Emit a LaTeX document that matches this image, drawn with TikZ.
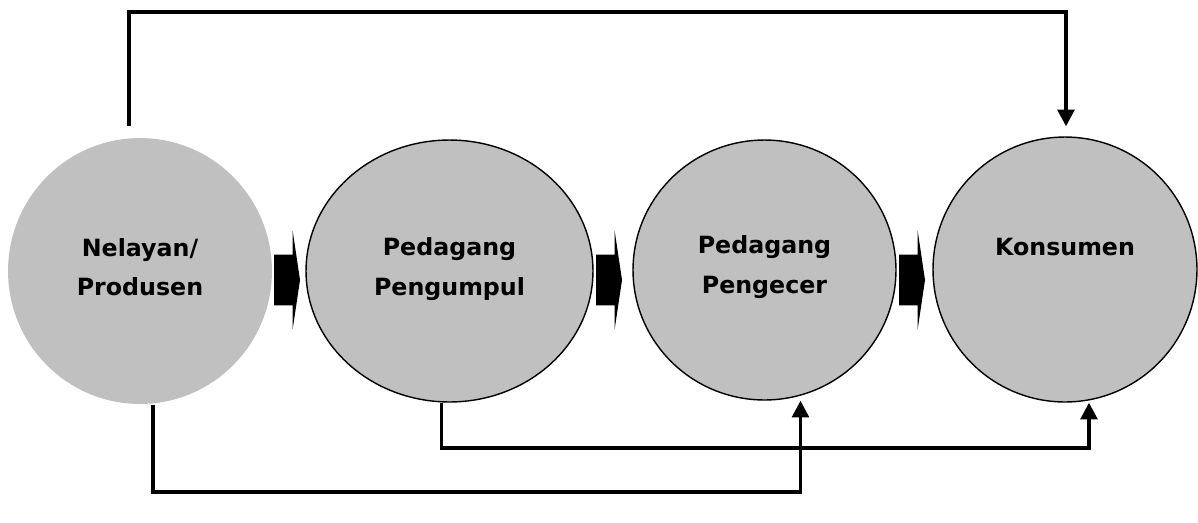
\documentclass[tikz,border=0pt]{standalone}
\usepackage{fontspec}
\setmainfont{DejaVu Sans}
\usetikzlibrary{shapes.geometric,shapes.arrows,arrows.meta}
\definecolor{bubble}{RGB}{192,192,192}
\tikzset{
  circ/.style={ellipse,fill=bubble,draw=black,line width=0.8pt,inner sep=0pt},
  lbl/.style={font=\bfseries\fontsize{13.5}{22.5}\selectfont,align=center},
  conn/.style={line width=2pt,-{Triangle[width=9.5pt,length=9.5pt]}},
  chev/.style={single arrow,fill=black,inner xsep=0pt,inner ysep=0.5cm,
    minimum height=0.52cm,single arrow head extend=0.48cm,
    single arrow tip angle=163,anchor=tail}
}
\begin{document}
\begin{tikzpicture}[x=0.02cm,y=-0.02cm]
\useasboundingbox (0,0) rectangle (1198,522);
% the four parties
\node[circ,draw=none,minimum width=5.28cm,minimum height=5.32cm] (prod) at (140,271) {};
\node[circ,minimum width=5.74cm,minimum height=5.24cm] (pengu) at (449.5,271) {};
\node[circ,minimum width=5.26cm,minimum height=5.2cm] (peng) at (764.5,270) {};
\node[circ,minimum width=5.28cm,minimum height=5.3cm] (kons) at (1065,269.5) {};
\node[lbl] at ([shift={(0,-4)}]prod.center) {Nelayan/\\Produsen};
\node[lbl] at ([shift={(0,-2)}]pengu.center) {Pedagang\\Pengumpul};
\node[lbl] at ([shift={(0,-3)}]peng.center) {Pedagang\\Pengecer};
\node[lbl] at ([shift={(0,-22)}]kons.center) {Konsumen};
% main chain
\node[chev] (a1) at ([shift={(1,9)}]prod.east) {};
\node[chev] (a2) at ([shift={(2,9)}]pengu.east) {};
\node[chev] (a3) at ([shift={(2,10)}]peng.east) {};
% side channels
\coordinate (toplvl) at (0,12);
\coordinate (low1) at (0,492);
\coordinate (low2) at (0,448);
\coordinate (t1) at ([shift={(-11,-11)}]prod.north);
\coordinate (t4) at ([shift={(1,-10)}]kons.north);
\coordinate (s1) at ([shift={(13,0)}]prod.south);
\coordinate (e3) at ([shift={(36,0)}]peng.south);
\coordinate (s2) at ([shift={(-8,0)}]pengu.south);
\coordinate (e4) at ([shift={(24,0)}]kons.south);
\draw[conn] (t1) |- (t4 |- toplvl) -- (t4);
\draw[conn] (s1) |- (e3 |- low1) -- (e3);
\draw[conn] (s2) |- (e4 |- low2) -- (e4);
\end{tikzpicture}
\end{document}
